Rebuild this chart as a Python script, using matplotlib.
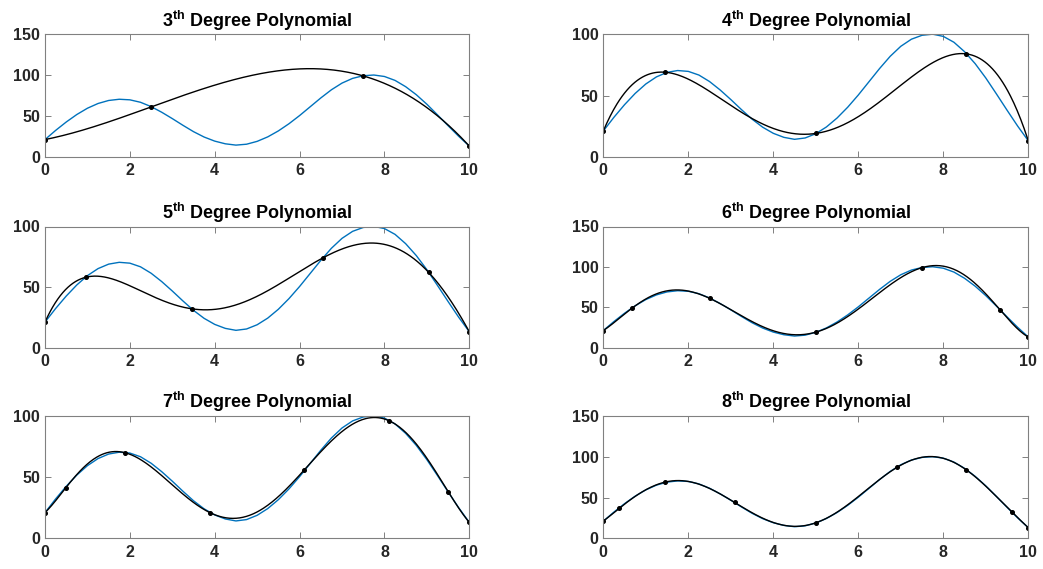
import numpy as np
import matplotlib
matplotlib.use("Agg")
import matplotlib.pyplot as plt

plt.rcParams['font.family'] = ['Liberation Sans', 'DejaVu Sans']
plt.rcParams['mathtext.fontset'] = 'custom'
plt.rcParams['mathtext.rm'] = 'Liberation Sans'
plt.rcParams['mathtext.bf'] = 'Liberation Sans:bold'

# Underlying function (blue)
f_x = [0, 0.25, 0.5, 0.75, 1.0, 1.25, 1.5, 1.75, 2.0, 2.25, 2.5, 2.75, 3.0, 3.25,
       3.5, 3.75, 4.0, 4.25, 4.5, 4.75, 5.0, 5.25, 5.5, 5.75, 6.0, 6.25, 6.5,
       6.75, 7.0, 7.25, 7.5, 7.75, 8.0, 8.25, 8.5, 8.75, 9.0, 9.25, 9.5, 9.75, 10]
f_y = [21, 32.2, 42.5, 51.7, 59.4, 65.2, 68.9, 70.4, 69.7, 66.7, 61.4, 54.5, 46.7, 38.5,
       30.7, 24.1, 19.1, 15.8, 14.2, 15.3, 18.8, 24.3, 31.6, 40.4, 50.4, 61.2, 72.0,
       82.0, 90.2, 96.0, 99.2, 100.1, 98.3, 93.5, 85.8, 76.0, 64.3, 51.3, 38.0, 25.0, 13]

# Interpolation nodes per polynomial degree
degrees = [3, 4, 5, 6, 7, 8]
nodes_x = {
    3: [0, 2.5, 7.5, 10],
    4: [0, 1.46, 5, 8.54, 10],
    5: [0, 0.955, 3.455, 6.545, 9.045, 10],
    6: [0, 0.67, 2.5, 5, 7.5, 9.33, 10],
    7: [0, 0.495, 1.883, 3.887, 6.113, 8.117, 9.505, 10],
    8: [0, 0.38, 1.46, 3.09, 5, 6.91, 8.54, 9.62, 10],
}
nodes_y = {
    3: [21, 61, 99, 13],
    4: [21, 69, 19, 84, 13],
    5: [21, 58, 32, 74, 62, 13],
    6: [21, 48.5, 61, 19, 99, 47, 13],
    7: [21, 41.5, 70, 21, 56, 96, 38, 13],
    8: [21, 37, 69, 44, 19, 87, 84, 32, 13],
}
y_max = {3: 150, 4: 100, 5: 100, 6: 150, 7: 100, 8: 150}
x_ticks = [0, 2, 4, 6, 8, 10]

W, H = 1043, 569
fig = plt.figure(figsize=(W / 100, H / 100), dpi=100)

col_left = [45 / W, 603.3 / W]
col_w = [424.3 / W, 425 / W]
row_bottom = [1 - 156.7 / H, 1 - 347.5 / H, 1 - 538.3 / H]
row_h = [122.4 / H, 121 / H, 122.3 / H]

grid = np.linspace(0, 10, 500)
for i, d in enumerate(degrees):
    r, c = divmod(i, 2)
    ax = fig.add_axes([col_left[c], row_bottom[r], col_w[c], row_h[r]])
    ax.plot(f_x, f_y, color='#0072BD', lw=1.0, solid_joinstyle='round')
    coef = np.polyfit(nodes_x[d], nodes_y[d], d)
    ax.plot(grid, np.polyval(coef, grid), color='black', lw=1.0)
    ax.plot(nodes_x[d], nodes_y[d], 'o', color='black', ms=2.6)
    ax.set_xlim(0, 10)
    ax.set_ylim(0, y_max[d])
    ax.set_xticks(x_ticks)
    ax.set_yticks(np.arange(0, y_max[d] + 1, 50))
    ax.tick_params(direction='in', top=True, right=True, length=4, width=0.7,
                   color='#808080', labelsize=11.5, labelcolor='#262626')
    ax.tick_params(axis='x', pad=4.5)
    ax.tick_params(axis='y', pad=3.5)
    for lab in ax.get_xticklabels() + ax.get_yticklabels():
        lab.set_fontweight('bold')
    for sp in ax.spines.values():
        sp.set_color('#808080')
        sp.set_linewidth(0.8)
    ax.set_title(r'%d$^{\mathbf{th}}$ Degree Polynomial' % d, fontsize=13,
                 fontweight='bold', pad=5.5)

fig.savefig('out.png', dpi=100)
